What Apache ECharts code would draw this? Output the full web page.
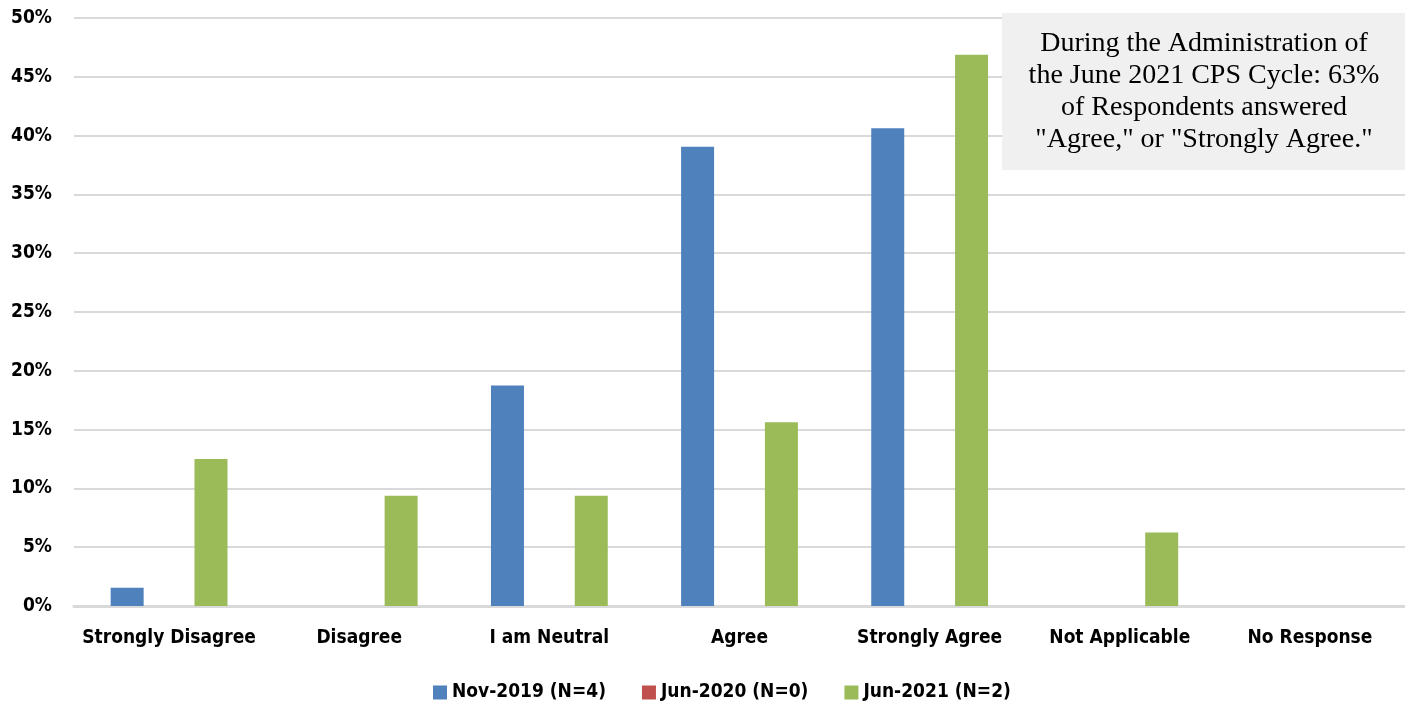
<!DOCTYPE html>
<html><head><meta charset="utf-8">
<script src="https://cdn.jsdelivr.net/npm/echarts@6/dist/echarts.min.js"></script>
<style>html,body{margin:0;padding:0;background:#fff}#c{width:1405px;height:702px}</style>
</head><body><div id="c"></div>
<script>
const categories = ["Strongly Disagree","Disagree","I am Neutral","Agree","Strongly Agree","Not Applicable","No Response"];
const seriesNames = ["Nov-2019 (N=4)","Jun-2020 (N=0)","Jun-2021 (N=2)"];
const nov2019 = [1.56, 0, 18.75, 39.06, 40.63, 0, 0];
const jun2020 = [0, 0, 0, 0, 0, 0, 0];
const jun2021 = [12.5, 9.38, 9.38, 15.63, 46.88, 6.25, 0];
const colors = ["#4f81bd","#c0504d","#9bbb59"];
const annotation = 'During the Administration of\nthe June 2021 CPS Cycle: 63%\nof Respondents answered\n"Agree," or "Strongly Agree."';
const font = '"Liberation Sans Narrow","DejaVu Sans Condensed",sans-serif';

const chart = echarts.init(document.getElementById('c'), null, {renderer:'canvas'});
const mk = (name, data, color) => ({
  name, type:'bar', data, barWidth:33, barGap:'27%',
  itemStyle:{color}, animation:false
});
chart.setOption({
  animation:false,
  grid:{left:74, right:0, top:18, bottom:96, containLabel:false},
  legend:{
    top:678, left:428, itemWidth:14, itemHeight:14, itemGap:36,
    icon:'rect',
    textStyle:{fontFamily:font, fontWeight:'bold', fontSize:19, color:'#000'},
    data:seriesNames
  },
  xAxis:{
    type:'category', data:categories,
    axisLine:{lineStyle:{color:'#d9d9d9', width:3}},
    axisTick:{show:false},
    axisLabel:{fontFamily:font, fontWeight:'bold', fontSize:19, color:'#000', margin:23, interval:0}
  },
  yAxis:{
    type:'value', min:0, max:50, interval:5,
    axisLine:{show:false}, axisTick:{show:false},
    splitLine:{lineStyle:{color:'#d9d9d9', width:2}},
    axisLabel:{formatter:'{value}%', fontFamily:font, fontWeight:'bold', fontSize:19, color:'#000', margin:22}
  },
  series:[mk(seriesNames[0], nov2019, colors[0]), mk(seriesNames[1], jun2020, colors[1]), mk(seriesNames[2], jun2021, colors[2])],
  graphic:[{
    type:'group', left:1002, top:13, z:100,
    children:[
      {type:'rect', z:100, shape:{x:0,y:0,width:403,height:157}, style:{fill:'#f0f0f0'}},
      {type:'text', z:101, x:202, y:79, style:{text:annotation, fontFamily:'"Liberation Serif","Times New Roman",serif', fontSize:28, lineHeight:32, fill:'#000', align:'center', verticalAlign:'middle'}}
    ]
  }]
});
</script></body></html>
